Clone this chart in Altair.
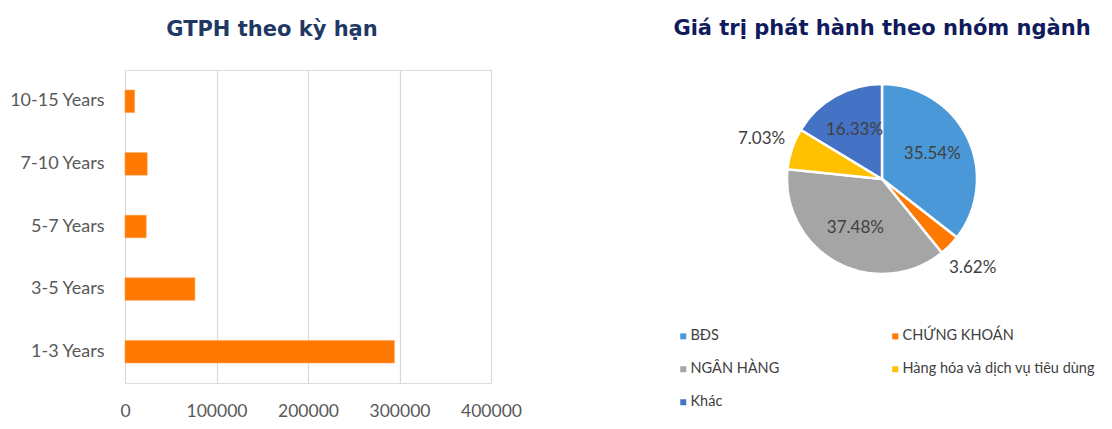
import altair as alt
import pandas as pd

# ---- data ----
terms = ["10-15 Years", "7-10 Years", "5-7 Years", "3-5 Years", "1-3 Years"]
term_values = [10500, 24300, 23200, 76400, 294400]

sectors = ["BĐS", "CHỨNG KHOÁN", "NGÂN HÀNG", "Hàng hóa và dịch vụ tiêu dùng", "Khác"]
sector_pct = [35.54, 3.62, 37.48, 7.03, 16.33]
sector_colors = ["#4A98D8", "#FF7800", "#A5A5A5", "#FFC000", "#4472C4"]

x_ticks = [0, 100000, 200000, 300000, 400000]

bar_df = pd.DataFrame({"term": terms, "value": term_values})
pie_df = pd.DataFrame({
    "sector": sectors,
    "pct": sector_pct,
    "idx": list(range(len(sectors))),
    "label": [f"{p:.2f}%" for p in sector_pct],
})

FONT = "Lato"
TITLE_FONT = "DejaVu Sans"

bars = alt.Chart(bar_df).mark_bar(color="#FF7800", stroke="#FFA050", strokeWidth=0.6).encode(
    x=alt.X("value:Q",
            scale=alt.Scale(domain=[0, 400000], nice=False),
            axis=alt.Axis(values=x_ticks, title=None, domain=False, ticks=False,
                          labelFont=FONT, labelFontSize=17.5, labelColor="#595959",
                          labelPadding=19, gridColor="#D9D9D9", gridWidth=1.2,
                          labelFlush=False, format="d")),
    y=alt.Y("term:N", sort=terms,
            scale=alt.Scale(paddingInner=0.64, paddingOuter=0.32),
            axis=alt.Axis(title=None, domain=False, ticks=False, grid=False,
                          labelFont=FONT, labelFontSize=18, labelColor="#595959",
                          labelPadding=21)),
).properties(
    width=366, height=313,
    title=alt.TitleParams("GTPH theo kỳ hạn", font=TITLE_FONT, fontSize=21,
                          fontWeight="bold", color="#1F3864", anchor="middle",
                          frame="group", dx=-36, offset=30),
)

base = alt.Chart(pie_df).transform_calculate(
    lab_in="datum.pct >= 10 ? datum.label : ''",
    lab_out="datum.pct < 10 ? datum.label : ''",
).encode(
    theta=alt.Theta("pct:Q", stack=True),
    order=alt.Order("idx:Q"),
)

arcs = base.mark_arc(radius=95, stroke="white", strokeWidth=2.5).encode(
    color=alt.Color("sector:N",
                    scale=alt.Scale(domain=sectors, range=sector_colors),
                    sort=sectors,
                    legend=alt.Legend(title=None, orient="bottom", offset=41, padding=0,
                                      direction="horizontal",
                                      columns=2, columnPadding=108, rowPadding=18,
                                      symbolType="square", symbolSize=36,
                                      symbolStrokeWidth=0, labelFont=FONT,
                                      labelFontSize=14.5, labelColor="#404040",
                                      labelOffset=0, labelLimit=400)),
)

inside = base.mark_text(radius=56, font=FONT, fontSize=17, color="#404040").encode(
    text="lab_in:N")
outside = base.mark_text(radius=127, font=FONT, fontSize=17, color="#404040").encode(
    text="lab_out:N")

pie = alt.layer(arcs, inside, outside).properties(
    width=412, height=218,
    title=alt.TitleParams("Giá trị phát hành theo nhóm ngành", font=TITLE_FONT, fontSize=21,
                          fontWeight="bold", color="#0F1B5C", anchor="middle",
                          frame="group", offset=20),
)

chart = alt.hconcat(bars, pie, spacing=151).resolve_scale(color="independent").resolve_legend(
    color="independent").configure_view(stroke=None).configure(background="white").properties(
    padding={"top": 10, "left": 0, "right": 0, "bottom": 0})

chart.save("out.html", embed_options={"renderer": "svg", "actions": False})
